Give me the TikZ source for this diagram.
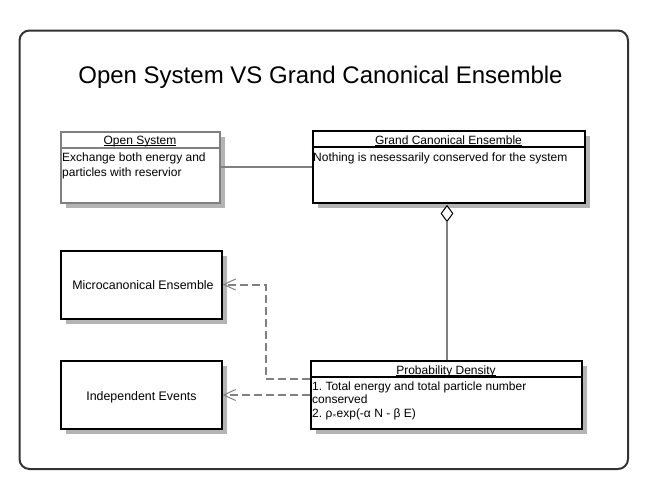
\documentclass[tikz,border=0pt]{standalone}
\usepackage{fontspec}
\setmainfont{Liberation Sans}
\newfontfamily\mysymfont{DejaVu Sans}
\usetikzlibrary{arrows.meta,shadows,shapes.geometric}
\definecolor{lineg}{HTML}{808080}
\definecolor{shadowg}{HTML}{B4B4B4}
\definecolor{frameg}{HTML}{333333}
\newcommand\mybodyfont{\fontsize{12}{15}\selectfont\frenchspacing}
\newcommand\myul[1]{\setbox0\hbox{#1}\rlap{\rule[-1.6pt]{\wd0}{0.8pt}}\box0}
\begin{document}
\begin{tikzpicture}[x=1pt,y=-1pt,
  umlbox/.style={rectangle, draw=black, line width=2pt, fill=white, inner sep=0pt,
    drop shadow={shadow xshift=5pt, shadow yshift=-5pt, fill=shadowg, opacity=1}},
  greybox/.style={umlbox, draw=lineg},
  divider/.style={draw=black, line width=2pt},
  headtext/.style={anchor=base, inner sep=0pt, font=\mybodyfont},
  bodytext/.style={anchor=north west, inner sep=0pt, align=left, font=\mybodyfont},
  plaintext/.style={anchor=base, inner sep=0pt, font=\fontsize{12.4}{15}\selectfont},
  assoc/.style={draw=lineg, line width=2pt},
  dep/.style={draw=lineg, line width=2pt, dash pattern=on 8pt off 4pt,
    -{Straight Barb[length=12pt,width=11pt,line width=1pt]}},
]
\useasboundingbox (0,0) rectangle (649,490);
\draw[frameg, line width=2pt, rounded corners=10pt] (19.5,30.5) rectangle (628,469);
\node[anchor=base, inner sep=0pt, font=\fontsize{24}{28}\selectfont] (title) at (320.5,83) {Open System VS Grand Canonical Ensemble};

% boxes
\node[greybox, minimum width=159pt, minimum height=71pt] (os) at (140,167) {};
\node[umlbox, minimum width=272pt, minimum height=72pt] (gce) at (448.5,166.5) {};
\node[umlbox, minimum width=161pt, minimum height=68pt] (mce) at (141,284.5) {};
\node[umlbox, minimum width=161pt, minimum height=68pt] (ie) at (141,395) {};
\node[umlbox, minimum width=271pt, minimum height=68pt] (pd) at (446,395) {};

% dividers
\draw[divider, draw=lineg] ([yshift=-17pt]os.north west) -- ([yshift=-17pt]os.north east);
\draw[divider] ([yshift=-17pt]gce.north west) -- ([yshift=-17pt]gce.north east);
\draw[divider] ([yshift=-16.5pt]pd.north west) -- ([yshift=-16.5pt]pd.north east);

% texts
\node[headtext] (osh) at (140,144) {\myul{Open System}};
\node[bodytext] (osb) at (62,150.5) {\strut Exchange both energy and\\particles with reservior};
\node[headtext] (gceh) at (448.5,144) {\myul{Grand Canonical Ensemble}};
\node[bodytext] (gceb) at (313,150.5) {\strut Nothing is nesessarily conserved for the system};
\node[headtext] (pdh) at (446,374) {\myul{Probability Density}};
\node[bodytext, font=\fontsize{12}{13.5}\selectfont\frenchspacing] (pdb) at (312,380.5) {\strut 1. Total energy and total particle number\\conserved\\2. ρ{\mysymfont\fontsize{6}{8}\selectfont ∝}exp(-α N - β E)};
\node[plaintext] (mcet) at (143,289.3) {Microcanonical Ensemble};
\node[plaintext] (iet) at (141.5,400) {Independent Events};

% connectors
\draw[assoc] (os.east) -- (os.east -| gce.west);
\node[diamond, draw=black, line width=1pt, fill=white, inner sep=0pt, aspect=0.75,
  minimum width=12pt, minimum height=16pt] (agg) at (447,213.5) {};
\draw[assoc] (agg.south) -- (agg.south |- pd.north);
\draw[dep] ([yshift=-19pt]pd.north west) -- ++(-44,0) |- (mce.east);
\draw[dep] (pd.west) -- (ie.east);
\end{tikzpicture}
\end{document}
